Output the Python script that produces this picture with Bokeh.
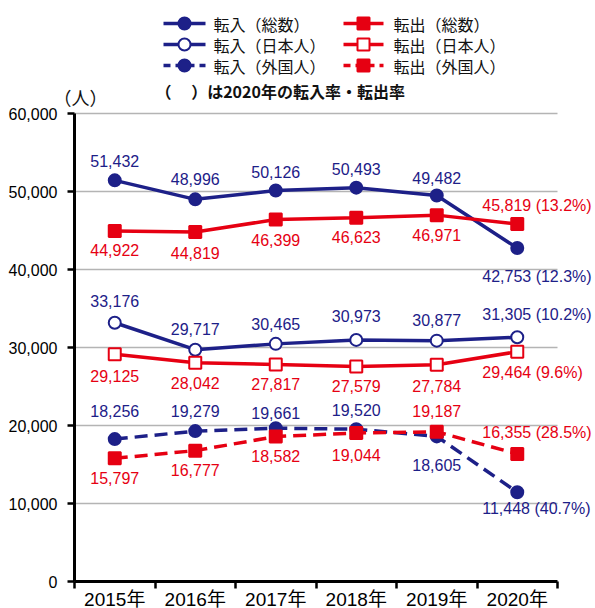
from bokeh.plotting import figure
from bokeh.models import FixedTicker, NumeralTickFormatter, Range1d, ColumnDataSource
from bokeh.core.properties import value
from bokeh.embed import file_html
from bokeh.resources import INLINE

# ---------------- data ----------------
years = ["2015年", "2016年", "2017年", "2018年", "2019年", "2020年"]
in_total = [51432, 48996, 50126, 50493, 49482, 42753]
out_total = [44922, 44819, 46399, 46623, 46971, 45819]
in_japanese = [33176, 29717, 30465, 30973, 30877, 31305]
out_japanese = [29125, 28042, 27817, 27579, 27784, 29464]
in_foreign = [18256, 19279, 19661, 19520, 18605, 11448]
out_foreign = [15797, 16777, 18582, 19044, 19187, 16355]
rate_2020_in_total = "12.3%"
rate_2020_out_total = "13.2%"
rate_2020_in_japanese = "10.2%"
rate_2020_out_japanese = "9.6%"
rate_2020_in_foreign = "40.7%"
rate_2020_out_foreign = "28.5%"
y_ticks = [0, 10000, 20000, 30000, 40000, 50000, 60000]
legend_labels = ["転入（総数）", "転出（総数）", "転入（日本人）", "転出（日本人）", "転入（外国人）", "転出（外国人）"]
note_text = "（　 ）は2020年の転入率・転出率"
unit_text = "（人）"

# ---------------- layout / style ----------------
NAVY = "#1d2088"
RED = "#e60012"
NUM_FONT = "'Liberation Sans', Arial, sans-serif"
XL_FONT = "'Liberation Sans', 'Noto Sans CJK JP', sans-serif"
JP_FONT = "'Noto Sans CJK JP', sans-serif"

PAGE_OFF = 0             # where the canvas starts on the page
FIG_W, FIG_H = 595, 608
PAGE_LEFT = 74           # page x of the y axis
CAT_W = 80.5             # px per category
PAGE_ZERO = 581          # page y of value 0
PAGE_TOP_TICK = 113      # page y of the top tick
UNIT_PER_PX = y_ticks[-1] / (PAGE_ZERO - PAGE_TOP_TICK)

def px_x(page_x):
    return (page_x - PAGE_LEFT) / CAT_W - 0.5

def px_y(page_y):
    return (PAGE_ZERO - page_y) * UNIT_PER_PX

p = figure(width=FIG_W, height=FIG_H, output_backend="svg", toolbar_location=None,
           x_range=Range1d(px_x(PAGE_OFF), px_x(PAGE_OFF + FIG_W)),
           y_range=Range1d(px_y(PAGE_OFF + FIG_H), px_y(PAGE_OFF)),
           min_border=0, min_border_left=0, min_border_right=0, min_border_top=0, min_border_bottom=0)
p.outline_line_color = None
p.xgrid.visible = False
p.ygrid.visible = False
p.background_fill_color = "white"
p.border_fill_color = "white"

idx = list(range(len(years)))
n_cat = len(years)

# gridlines (only across the category span)
for t in y_ticks[1:]:
    p.segment(x0=[-0.5], y0=[t], x1=[n_cat - 0.5], y1=[t], line_color="#b4b4b4", line_width=1.5)

# axes (drawn at fixed locations inside the canvas)
yax = p.yaxis[0]
yax.fixed_location = -0.5
yax.ticker = FixedTicker(ticks=y_ticks)
yax.formatter = NumeralTickFormatter(format="0,0")
yax.bounds = (0, y_ticks[-1])
yax.axis_line_width = 3
yax.axis_line_color = "black"
yax.major_tick_out = 7
yax.major_tick_in = 0
yax.major_tick_line_width = 2.5
yax.minor_tick_line_color = None
yax.major_label_standoff = 10
yax.major_label_text_font = NUM_FONT
yax.major_label_text_font_size = "16px"
yax.major_label_text_color = "black"

xax = p.xaxis[0]
xax.fixed_location = 0
xax.ticker = FixedTicker(ticks=idx, minor_ticks=[i - 0.5 for i in range(n_cat + 1)])
xax.major_label_overrides = {i: years[i] for i in idx}
xax.bounds = (-0.5, n_cat - 0.5)
xax.axis_line_width = 3
xax.axis_line_color = "black"
xax.major_tick_out = 0
xax.major_tick_in = 0
xax.minor_tick_out = 7
xax.minor_tick_in = 0
xax.minor_tick_line_width = 2.5
xax.minor_tick_line_color = "black"
xax.major_label_standoff = 0
xax.major_label_text_font = XL_FONT
xax.major_label_text_font_size = "19px"
xax.major_label_text_color = "black"

LW = 3.5
DASH = "13 7"

def series(vals, color, dash, marker, filled, size):
    p.line(x=idx, y=vals, line_color=color, line_width=LW, line_dash=dash)
    p.scatter(x=idx, y=vals, marker=marker, size=size, line_color=color, line_width=2,
              fill_color=color if filled else "white")

series(in_total, NAVY, "solid", "circle", True, 12)
series(out_total, RED, "solid", "square", True, 12)
series(in_japanese, NAVY, "solid", "circle", False, 12)
series(out_japanese, RED, "solid", "square", False, 12)
series(in_foreign, NAVY, DASH, "circle", True, 12)
series(out_foreign, RED, DASH, "square", True, 12)

# data labels: y offsets in px (positive = down)
LABEL_SIZE = "16px"

def labels(vals, rate, color, dys):
    txt = [f"{v:,}" for v in vals]
    txt[-1] = f"{vals[-1]:,} ({rate})"
    src_a = ColumnDataSource(dict(x=idx[:-1], y=vals[:-1], t=txt[:-1], dy=dys[:-1]))
    src_b = ColumnDataSource(dict(x=idx[-1:], y=vals[-1:], t=txt[-1:], dy=dys[-1:]))
    p.text(x="x", y="y", text="t", y_offset="dy", source=src_a, text_align="center",
           text_baseline="middle", text_color=color, text_font=value(NUM_FONT), text_font_size=LABEL_SIZE)
    p.text(x="x", y="y", text="t", y_offset="dy", x_offset=-35, source=src_b, text_align="left",
           text_baseline="middle", text_color=color, text_font=value(NUM_FONT), text_font_size=LABEL_SIZE)

labels(in_total, rate_2020_in_total, NAVY, [-19, -20, -19, -19, -18, 28])
labels(out_total, rate_2020_out_total, RED, [19, 21, 20, 19, 20, -19])
labels(in_japanese, rate_2020_in_japanese, NAVY, [-22, -21, -20, -24, -21, -23])
labels(out_japanese, rate_2020_out_japanese, RED, [22, 20, 19, 20, 21, 21])
labels(in_foreign, rate_2020_in_foreign, NAVY, [-28, -20, -15, -19, 29, 16])
labels(out_foreign, rate_2020_out_foreign, RED, [20, 19, 19, 22, -21, -21])

# legend
rows = [23, 44, 65]
cols = [(163, 205, 184, 213), (343, 383, 363, 393)]
specs = [
    (NAVY, "solid", "circle", True), (RED, "solid", "square", True),
    (NAVY, "solid", "circle", False), (RED, "solid", "square", False),
    (NAVY, "7 5", "circle", True), (RED, "7 5", "square", True),
]
for k, (color, dash, marker, filled) in enumerate(specs):
    r = rows[k // 2]
    x0, x1, mx, tx = cols[k % 2]
    p.line(x=[px_x(x0), px_x(x1)], y=[px_y(r), px_y(r)], line_color=color, line_width=LW, line_dash=dash)
    p.scatter(x=[px_x(mx)], y=[px_y(r)], marker=marker, size=12, line_color=color, line_width=2,
              fill_color=color if filled else "white")
    p.text(x=[px_x(tx)], y=[px_y(r)], text=[legend_labels[k]], text_baseline="middle", text_align="left",
           text_color="#111111", text_font=value(JP_FONT), text_font_size="16px")

p.text(x=[px_x(155)], y=[px_y(90)], text=[note_text], text_baseline="middle", text_align="left",
       text_color="#111111", text_font=value(JP_FONT), text_font_size="16px", text_font_style="bold")

p.text(x=[px_x(53)], y=[px_y(96)], text=[unit_text], text_baseline="middle", text_align="left",
       text_color="#111111", text_font=value(JP_FONT), text_font_size="18px")

open("out.html", "w").write(file_html(p, INLINE))
